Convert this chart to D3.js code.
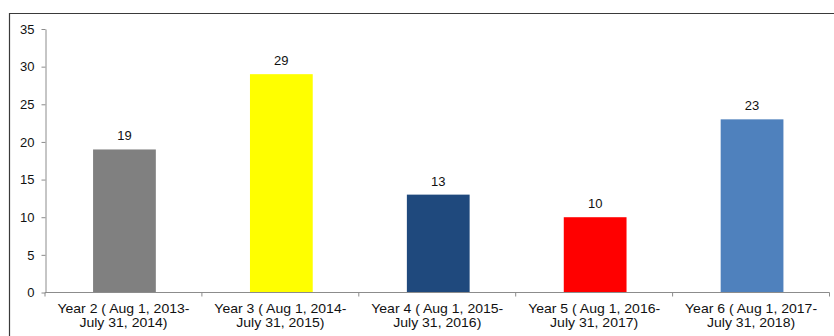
<!DOCTYPE html>
<html>
<head>
<meta charset="utf-8">
<script src="https://cdn.jsdelivr.net/npm/d3@7"></script>
<style>
  html, body { margin: 0; padding: 0; background: #fff; }
  svg { display: block; font-family: "Liberation Sans", Arial, sans-serif; }
</style>
</head>
<body>
<svg id="chart" width="834" height="336"></svg>
<script>
// Counts per programme year
const categories = [
  ["Year 2 ( Aug 1, 2013-", "July 31, 2014)"],
  ["Year 3 ( Aug 1, 2014-", "July 31, 2015)"],
  ["Year 4 ( Aug 1, 2015-", "July 31, 2016)"],
  ["Year 5 ( Aug 1, 2016-", "July 31, 2017)"],
  ["Year 6 ( Aug 1, 2017-", "July 31, 2018)"]
];
const values = [19, 29, 13, 10, 23];
const barColors = ["#808080", "#FFFF00", "#1F497D", "#FF0000", "#4F81BD"];
const yTicks = [0, 5, 10, 15, 20, 25, 30, 35];

const svg = d3.select("#chart");

// Outer frame (open on the right and bottom edges of the view)
svg.append("path")
  .attr("d", "M9.5,336 V13.5 H834")
  .attr("fill", "none")
  .attr("stroke", "#3a3a3a")
  .attr("stroke-width", 1.2);

const plot = { left: 45, right: 829.5, top: 29, bottom: 292.5 };

const x = d3.scaleBand()
  .domain(d3.range(categories.length))
  .range([plot.left, plot.right])
  .padding(0);

const y = d3.scaleLinear()
  .domain([0, 35])
  .range([plot.bottom, plot.top]);

const barW = x.bandwidth() * 0.4;

// Bars
svg.append("g").selectAll("rect")
  .data(values)
  .join("rect")
  .attr("x", (d, i) => x(i) + (x.bandwidth() - barW) / 2 + 1)
  .attr("y", d => y(d))
  .attr("width", barW)
  .attr("height", d => y(0) - y(d))
  .attr("fill", (d, i) => barColors[i]);

// Value labels
svg.append("g").selectAll("text")
  .data(values)
  .join("text")
  .attr("x", (d, i) => x(i) + x.bandwidth() / 2 + 1)
  .attr("y", d => y(d) - 9)
  .attr("text-anchor", "middle")
  .attr("font-size", 13)
  .attr("fill", "#111")
  .text(d => d);

// Y axis
const yAxis = svg.append("g")
  .attr("transform", `translate(${plot.left + 0.5},0)`)
  .call(d3.axisLeft(y).tickValues(yTicks).tickSize(4).tickPadding(7).tickSizeOuter(0));
yAxis.select(".domain").attr("stroke", "#8c8c8c");
yAxis.selectAll(".tick line").attr("stroke", "#8c8c8c");
yAxis.selectAll(".tick text")
  .attr("font-size", 13)
  .attr("font-family", "Liberation Sans, Arial, sans-serif")
  .attr("fill", "#111");

// X axis with boundary ticks between categories
const xg = svg.append("g").attr("transform", `translate(0,${plot.bottom})`);
xg.append("line")
  .attr("x1", plot.left).attr("x2", plot.right)
  .attr("y1", 0).attr("y2", 0)
  .attr("stroke", "#8c8c8c");
const bounds = d3.range(categories.length + 1).map(i => i < categories.length ? x(i) : plot.right);
xg.selectAll("line.bound")
  .data(bounds)
  .join("line")
  .attr("class", "bound")
  .attr("x1", d => d).attr("x2", d => d)
  .attr("y1", 0).attr("y2", 4)
  .attr("stroke", "#8c8c8c");

// Category labels, two lines each, set slightly wide
const cat = xg.selectAll("text.cat")
  .data(categories)
  .join("text")
  .attr("class", "cat")
  .attr("text-anchor", "middle")
  .attr("font-size", 13)
  .attr("fill", "#111")
  .attr("transform", (d, i) => `translate(${x(i) + x.bandwidth() / 2},0) scale(1.08,1)`);
cat.each(function(lines) {
  const t = d3.select(this);
  lines.forEach((ln, k) => {
    t.append("tspan")
      .attr("x", 0)
      .attr("y", 21 + k * 14)
      .text(ln);
  });
});
</script>
</body>
</html>
